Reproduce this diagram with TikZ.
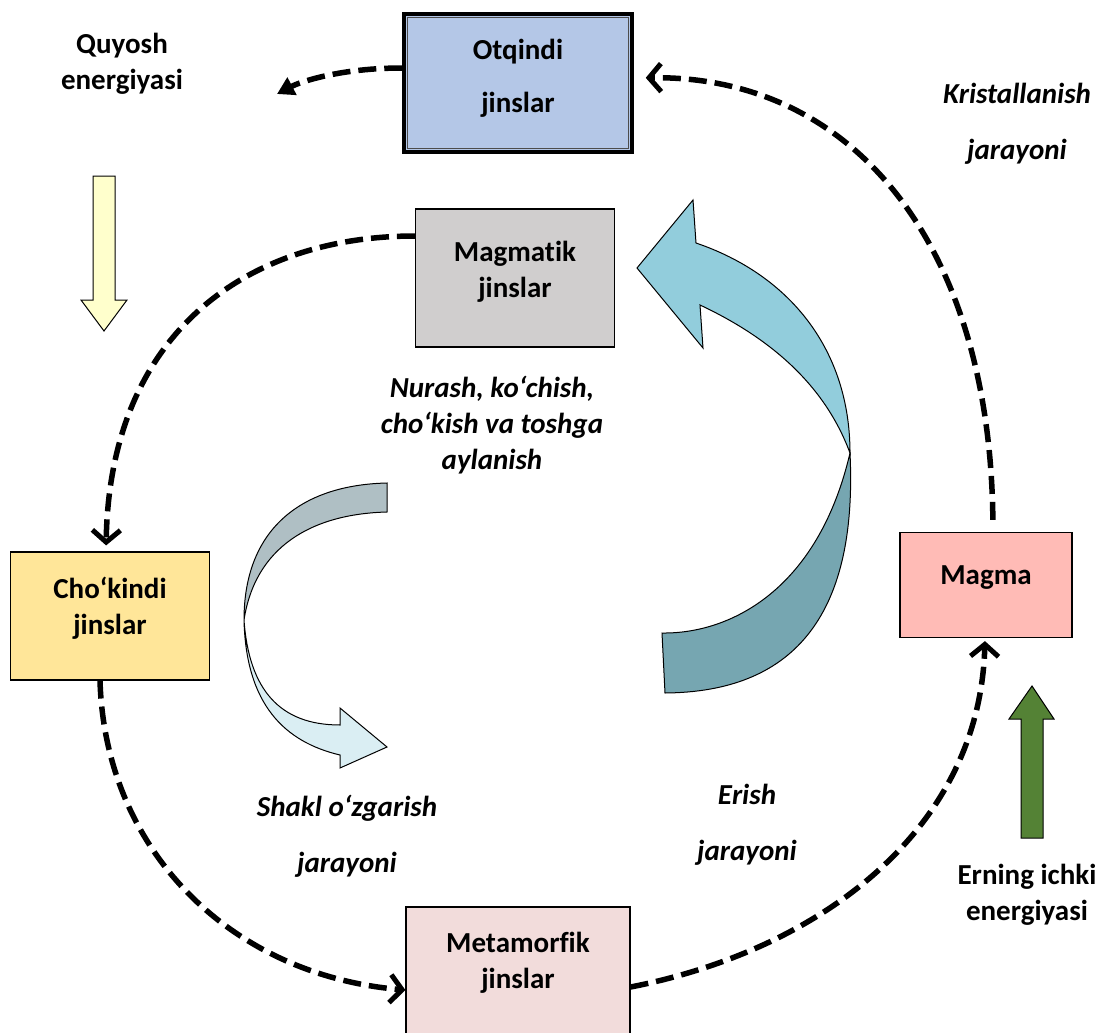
\documentclass[tikz,border=0pt]{standalone}
\usepackage{fontspec}
\setmainfont{Carlito}[Ligatures={NoCommon,NoRare,NoContextual}]
\usetikzlibrary{arrows.meta}

\definecolor{otqcol}{HTML}{B4C7E7}
\definecolor{magcol}{HTML}{D0CECE}
\definecolor{chocol}{HTML}{FFE699}
\definecolor{magmacol}{HTML}{FFBBB6}
\definecolor{metcol}{HTML}{F2DCDB}
\definecolor{meltlight}{HTML}{92CDDC}
\definecolor{meltdark}{HTML}{76A6B1}
\definecolor{shapegray}{HTML}{AFBFC4}
\definecolor{shapelight}{HTML}{DAEEF3}
\definecolor{sunyellow}{HTML}{FFFFCC}
\definecolor{earthgreen}{HTML}{548235}

\tikzset{
  rock/.style={draw=black, line width=1.2pt, inner sep=0pt, align=center,
    font=\bfseries\fontsize{29}{36}\selectfont},
  note/.style={align=center, font=\bfseries\itshape\fontsize{29}{36}\selectfont},
  energy/.style={align=center, font=\bfseries\fontsize{29}{36}\selectfont},
  flow/.style={line width=5.5pt, dash pattern=on 18pt off 8pt,
    -{Straight Barb[length=12pt,width=28pt,line width=5pt]}},
}

\begin{document}
\begin{tikzpicture}[x=1pt,y=-1pt]
\useasboundingbox (0,0) rectangle (1101,1033);
\clip (0,0) rectangle (1101,1033);

%draw block arrows
    \filldraw[fill=sunyellow, line width=1pt] (93,176) -- (115,176) -- (115,300) -- (127,300) -- (104,331) -- (81,300) -- (93,300) -- cycle;
    \filldraw[fill=earthgreen, line width=1pt] (1021,838) -- (1043,838) -- (1043,719) -- (1054,719) -- (1032,686) -- (1009,719) -- (1021,719) -- cycle;

%draw curved arrows
    \filldraw[fill=meltlight, line width=1pt] (696,243) .. controls (790,275) and (850,350) .. (850,453) .. controls (824,383) and (768,337) .. (700,305) -- (703,348) -- (637,268) -- (693,200) -- cycle;
    \filldraw[fill=meltdark, line width=1pt] (850,453) .. controls (858,620) and (790,692) .. (665,693) -- (662,633) .. controls (730,634) and (818,590) .. (850,453) -- cycle;
    \filldraw[fill=shapegray, line width=1pt] (387,483) .. controls (300,485) and (244,530) .. (244,620) .. controls (255,548) and (310,514) .. (387,512) -- cycle;
    \filldraw[fill=shapelight, line width=1pt] (244,620) .. controls (249,690) and (280,725) .. (340,725) -- (340,708) -- (387,747) -- (340,768) -- (340,755) .. controls (285,742) and (246,705) .. (244,620) -- cycle;

%draw rock boxes
    \node[rock, fill=otqcol, line width=3.5pt, minimum width=228pt, minimum height=138pt, text depth=14pt] (otq) at (518,83) {Otqindi\\[17pt]jinslar};
    \draw[gray!60!black, line width=0.8pt] ([shift={(5,5)}]otq.north west) rectangle ([shift={(-5,-5)}]otq.south east);
    \node[rock, fill=magcol, minimum width=199pt, minimum height=138pt, text depth=18pt] (mag) at (515,278) {Magmatik\\jinslar};
    \node[rock, fill=chocol, minimum width=199pt, minimum height=128pt, text depth=20pt] (cho) at (110,616) {Cho‘kindi\\jinslar};
    \node[rock, fill=magmacol, minimum width=172pt, minimum height=105pt, text depth=20pt] (magma) at (986,585) {Magma};
    \node[rock, fill=metcol, minimum width=224pt, minimum height=140pt, text depth=34pt] (met) at (518,977) {Metamorfik\\jinslar};

%draw labels
    \node[energy] (sun) at (122,64) {Quyosh\\energiyasi};
    \node[energy] (core) at (1027,895) {Erning ichki\\energiyasi};
    \node[note] (cryst) at (1017,124) {Kristallanish\\[20pt]jarayoni};
    \node[note] (weather) at (492,425) {Nurash, ko‘chish,\\cho‘kish va toshga\\aylanish};
    \node[note] (shape) at (347,836) {Shakl o‘zgarish\\[20pt]jarayoni};
    \node[note] (melt) at (747,825) {Erish\\[20pt]jarayoni};

%draw dashed connectors
    \coordinate (sunpt) at (277,94);
    \draw[flow, -{Triangle[length=17pt,width=19pt]}] ([yshift=15pt]otq.west) .. controls (340,68) and (300,82) .. (sunpt);
    \draw[flow, shorten <=12pt, shorten >=12pt] ([xshift=7pt]magma.north) .. controls (990,240) and (850,75) .. ([yshift=5pt]otq.east);
    \draw[flow, shorten >=6pt] ([yshift=42pt]mag.west) .. controls (250,236) and (110,330) .. ([xshift=-4pt]cho.north);
    \draw[flow] ([xshift=-10pt]cho.south) .. controls (105,850) and (230,975) .. ([yshift=-13pt]met.west);
    \draw[flow, shorten >=3pt] ([yshift=-10pt]met.east) .. controls (820,950) and (980,830) .. ([xshift=-1pt]magma.south);

\end{tikzpicture}
\end{document}
